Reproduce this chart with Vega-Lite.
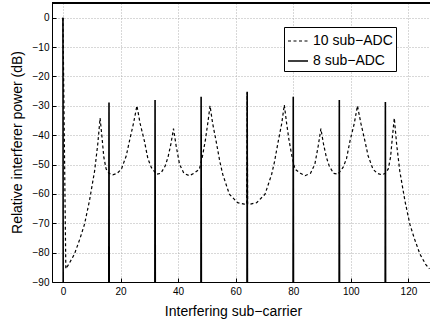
{
  "$schema": "https://vega.github.io/schema/vega-lite/v6.json",
  "autosize": "none",
  "width": 378,
  "height": 279,
  "padding": {"left": 52, "top": 3, "right": 0, "bottom": 42},
  "background": "white",
  "config": {
    "view": {"stroke": null},
    "font": "Liberation Sans",
    "axis": {
      "domainColor": "black",
      "tickColor": "black",
      "labelColor": "black",
      "titleColor": "black",
      "labelFont": "Liberation Sans",
      "titleFont": "Liberation Sans",
      "titleFontWeight": "normal",
      "labelFontSize": 10,
      "titleFontSize": 14,
      "gridColor": "#b0b0b0",
      "gridDash": [1, 2],
      "gridWidth": 1,
      "domainWidth": 1,
      "tickWidth": 1
    },
    "legend": {
      "labelFont": "Liberation Sans",
      "labelFontSize": 14,
      "labelColor": "black"
    }
  },
  "data": {
    "values": [
      {"x": 0, "y": 0, "s": "10 sub−ADC"},
      {"x": 1, "y": -85.5, "s": "10 sub−ADC"},
      {"x": 2, "y": -84, "s": "10 sub−ADC"},
      {"x": 4, "y": -80.5, "s": "10 sub−ADC"},
      {"x": 6, "y": -75, "s": "10 sub−ADC"},
      {"x": 7.5, "y": -70.3, "s": "10 sub−ADC"},
      {"x": 9.2, "y": -62.4, "s": "10 sub−ADC"},
      {"x": 11, "y": -52.2, "s": "10 sub−ADC"},
      {"x": 12.1, "y": -43, "s": "10 sub−ADC"},
      {"x": 12.9, "y": -34.2, "s": "10 sub−ADC"},
      {"x": 13.5, "y": -40, "s": "10 sub−ADC"},
      {"x": 14.2, "y": -47.5, "s": "10 sub−ADC"},
      {"x": 15, "y": -51.5, "s": "10 sub−ADC"},
      {"x": 16, "y": -53, "s": "10 sub−ADC"},
      {"x": 17.3, "y": -53.5, "s": "10 sub−ADC"},
      {"x": 18.8, "y": -53, "s": "10 sub−ADC"},
      {"x": 20.3, "y": -51.6, "s": "10 sub−ADC"},
      {"x": 22, "y": -47, "s": "10 sub−ADC"},
      {"x": 23.1, "y": -42, "s": "10 sub−ADC"},
      {"x": 24.5, "y": -36, "s": "10 sub−ADC"},
      {"x": 25.7, "y": -30, "s": "10 sub−ADC"},
      {"x": 26.8, "y": -36, "s": "10 sub−ADC"},
      {"x": 28.3, "y": -42, "s": "10 sub−ADC"},
      {"x": 29.5, "y": -48, "s": "10 sub−ADC"},
      {"x": 30.7, "y": -51, "s": "10 sub−ADC"},
      {"x": 32.5, "y": -53.3, "s": "10 sub−ADC"},
      {"x": 34, "y": -53, "s": "10 sub−ADC"},
      {"x": 35.5, "y": -50.5, "s": "10 sub−ADC"},
      {"x": 36.5, "y": -47.5, "s": "10 sub−ADC"},
      {"x": 37.5, "y": -43, "s": "10 sub−ADC"},
      {"x": 38.4, "y": -37.8, "s": "10 sub−ADC"},
      {"x": 39.3, "y": -43.5, "s": "10 sub−ADC"},
      {"x": 40.5, "y": -49.9, "s": "10 sub−ADC"},
      {"x": 42, "y": -53, "s": "10 sub−ADC"},
      {"x": 43.9, "y": -53.8, "s": "10 sub−ADC"},
      {"x": 45.5, "y": -53, "s": "10 sub−ADC"},
      {"x": 47.4, "y": -51.6, "s": "10 sub−ADC"},
      {"x": 48.5, "y": -47, "s": "10 sub−ADC"},
      {"x": 49.5, "y": -41.5, "s": "10 sub−ADC"},
      {"x": 50.3, "y": -36, "s": "10 sub−ADC"},
      {"x": 51.1, "y": -30, "s": "10 sub−ADC"},
      {"x": 52, "y": -36, "s": "10 sub−ADC"},
      {"x": 53.2, "y": -42, "s": "10 sub−ADC"},
      {"x": 54.5, "y": -49, "s": "10 sub−ADC"},
      {"x": 55.5, "y": -53.3, "s": "10 sub−ADC"},
      {"x": 57.8, "y": -60.1, "s": "10 sub−ADC"},
      {"x": 60.7, "y": -63, "s": "10 sub−ADC"},
      {"x": 63, "y": -63.5, "s": "10 sub−ADC"},
      {"x": 63.85, "y": -63.5, "s": "10 sub−ADC"},
      {"x": 64, "y": -25.5, "s": "10 sub−ADC"},
      {"x": 64.15, "y": -63.5, "s": "10 sub−ADC"},
      {"x": 65, "y": -63.5, "s": "10 sub−ADC"},
      {"x": 67.3, "y": -63, "s": "10 sub−ADC"},
      {"x": 70.2, "y": -60.1, "s": "10 sub−ADC"},
      {"x": 72.5, "y": -53.3, "s": "10 sub−ADC"},
      {"x": 73.5, "y": -49, "s": "10 sub−ADC"},
      {"x": 74.8, "y": -42, "s": "10 sub−ADC"},
      {"x": 76, "y": -36, "s": "10 sub−ADC"},
      {"x": 76.9, "y": -29.7, "s": "10 sub−ADC"},
      {"x": 77.7, "y": -36, "s": "10 sub−ADC"},
      {"x": 78.5, "y": -41.5, "s": "10 sub−ADC"},
      {"x": 79.5, "y": -47, "s": "10 sub−ADC"},
      {"x": 80.6, "y": -51.6, "s": "10 sub−ADC"},
      {"x": 82.5, "y": -53, "s": "10 sub−ADC"},
      {"x": 84.1, "y": -53.8, "s": "10 sub−ADC"},
      {"x": 86, "y": -53, "s": "10 sub−ADC"},
      {"x": 87.5, "y": -49.9, "s": "10 sub−ADC"},
      {"x": 88.7, "y": -43.5, "s": "10 sub−ADC"},
      {"x": 89.6, "y": -37.8, "s": "10 sub−ADC"},
      {"x": 90.5, "y": -43, "s": "10 sub−ADC"},
      {"x": 91.5, "y": -47.5, "s": "10 sub−ADC"},
      {"x": 92.5, "y": -50.5, "s": "10 sub−ADC"},
      {"x": 94, "y": -53, "s": "10 sub−ADC"},
      {"x": 95.5, "y": -53.3, "s": "10 sub−ADC"},
      {"x": 97.3, "y": -51, "s": "10 sub−ADC"},
      {"x": 98.5, "y": -48, "s": "10 sub−ADC"},
      {"x": 99.7, "y": -42, "s": "10 sub−ADC"},
      {"x": 101.2, "y": -36, "s": "10 sub−ADC"},
      {"x": 102.3, "y": -30, "s": "10 sub−ADC"},
      {"x": 103.5, "y": -36, "s": "10 sub−ADC"},
      {"x": 104.9, "y": -42, "s": "10 sub−ADC"},
      {"x": 106, "y": -47, "s": "10 sub−ADC"},
      {"x": 107.7, "y": -51.6, "s": "10 sub−ADC"},
      {"x": 109.2, "y": -53, "s": "10 sub−ADC"},
      {"x": 110.7, "y": -53.5, "s": "10 sub−ADC"},
      {"x": 112, "y": -53, "s": "10 sub−ADC"},
      {"x": 113, "y": -51.5, "s": "10 sub−ADC"},
      {"x": 113.8, "y": -47.5, "s": "10 sub−ADC"},
      {"x": 114.5, "y": -40, "s": "10 sub−ADC"},
      {"x": 115.1, "y": -34.2, "s": "10 sub−ADC"},
      {"x": 115.9, "y": -43, "s": "10 sub−ADC"},
      {"x": 117, "y": -52.2, "s": "10 sub−ADC"},
      {"x": 118.8, "y": -62.4, "s": "10 sub−ADC"},
      {"x": 120.5, "y": -70.3, "s": "10 sub−ADC"},
      {"x": 122, "y": -75, "s": "10 sub−ADC"},
      {"x": 124, "y": -80.5, "s": "10 sub−ADC"},
      {"x": 126, "y": -84, "s": "10 sub−ADC"},
      {"x": 127.3, "y": -85.5, "s": "10 sub−ADC"},
      {"x": 0, "y": 0, "s": "8 sub−ADC"},
      {"x": 0.12, "y": -130, "s": "8 sub−ADC"},
      {"x": 15.88, "y": -130, "s": "8 sub−ADC"},
      {"x": 16, "y": -28.9, "s": "8 sub−ADC"},
      {"x": 16.12, "y": -130, "s": "8 sub−ADC"},
      {"x": 31.88, "y": -130, "s": "8 sub−ADC"},
      {"x": 32, "y": -28, "s": "8 sub−ADC"},
      {"x": 32.12, "y": -130, "s": "8 sub−ADC"},
      {"x": 47.88, "y": -130, "s": "8 sub−ADC"},
      {"x": 48, "y": -26.9, "s": "8 sub−ADC"},
      {"x": 48.12, "y": -130, "s": "8 sub−ADC"},
      {"x": 63.88, "y": -130, "s": "8 sub−ADC"},
      {"x": 64, "y": -25.2, "s": "8 sub−ADC"},
      {"x": 64.12, "y": -130, "s": "8 sub−ADC"},
      {"x": 79.88, "y": -130, "s": "8 sub−ADC"},
      {"x": 80, "y": -26.9, "s": "8 sub−ADC"},
      {"x": 80.12, "y": -130, "s": "8 sub−ADC"},
      {"x": 95.88, "y": -130, "s": "8 sub−ADC"},
      {"x": 96, "y": -28, "s": "8 sub−ADC"},
      {"x": 96.12, "y": -130, "s": "8 sub−ADC"},
      {"x": 111.88, "y": -130, "s": "8 sub−ADC"},
      {"x": 112, "y": -28.7, "s": "8 sub−ADC"},
      {"x": 112.12, "y": -130, "s": "8 sub−ADC"},
      {"x": 127.5, "y": -130, "s": "8 sub−ADC"}
    ]
  },
  "layer": [
    {
      "mark": {"type": "line", "clip": true, "color": "black"},
      "encoding": {
        "x": {
          "field": "x", "type": "quantitative",
          "scale": {"domain": [-3.8, 127.5], "nice": false, "zero": false},
          "axis": {
            "orient": "bottom",
            "values": [0, 20, 40, 60, 80, 100, 120],
            "grid": true,
            "tickSize": -4,
            "labelPadding": 8,
            "title": "Interfering sub−carrier",
            "titleX": 181,
            "titleY": 33,
            "titleBaseline": "alphabetic"
          }
        },
        "y": {
          "field": "y", "type": "quantitative",
          "scale": {"domain": [-90, 5], "nice": false, "zero": false},
          "axis": {
            "orient": "left",
            "values": [-90, -80, -70, -60, -50, -40, -30, -20, -10, 0],
            "grid": true,
            "tickSize": -4,
            "labelPadding": 7,
            "labelOverlap": false,
            "title": "Relative interferer power (dB)",
            "titleX": -35,
            "titleY": 139,
            "titleAngle": 270,
            "titleAlign": "center",
            "titleBaseline": "middle"
          }
        },
        "strokeDash": {
          "field": "s", "type": "nominal",
          "scale": {"domain": ["10 sub−ADC", "8 sub−ADC"], "range": [[3, 2.5], [1, 0]]},
          "legend": {
            "title": null,
            "orient": "none",
            "legendX": 232,
            "legendY": 24,
            "strokeColor": "black",
            "fillColor": "white",
            "padding": 3,
            "symbolType": "stroke",
            "symbolSize": 400,
            "symbolStrokeColor": "black",
            "symbolStrokeWidth": 1,
            "labelOffset": 4,
            "rowPadding": 2
          }
        },
        "strokeWidth": {
          "field": "s", "type": "nominal",
          "scale": {"domain": ["10 sub−ADC", "8 sub−ADC"], "range": [1.2, 1.6]},
          "legend": null
        }
      }
    },
    {
      "mark": {"type": "rule", "color": "black", "strokeWidth": 1.2},
      "encoding": {
        "y": {
          "datum": 5,
          "type": "quantitative",
          "axis": {
            "orient": "left",
            "values": [-90, -80, -70, -60, -50, -40, -30, -20, -10, 0],
            "grid": true,
            "tickSize": -4,
            "labelPadding": 7,
            "labelOverlap": false,
            "title": "Relative interferer power (dB)",
            "titleX": -35,
            "titleY": 139,
            "titleAngle": 270,
            "titleAlign": "center",
            "titleBaseline": "middle"
          }
        }
      }
    }
  ]
}
